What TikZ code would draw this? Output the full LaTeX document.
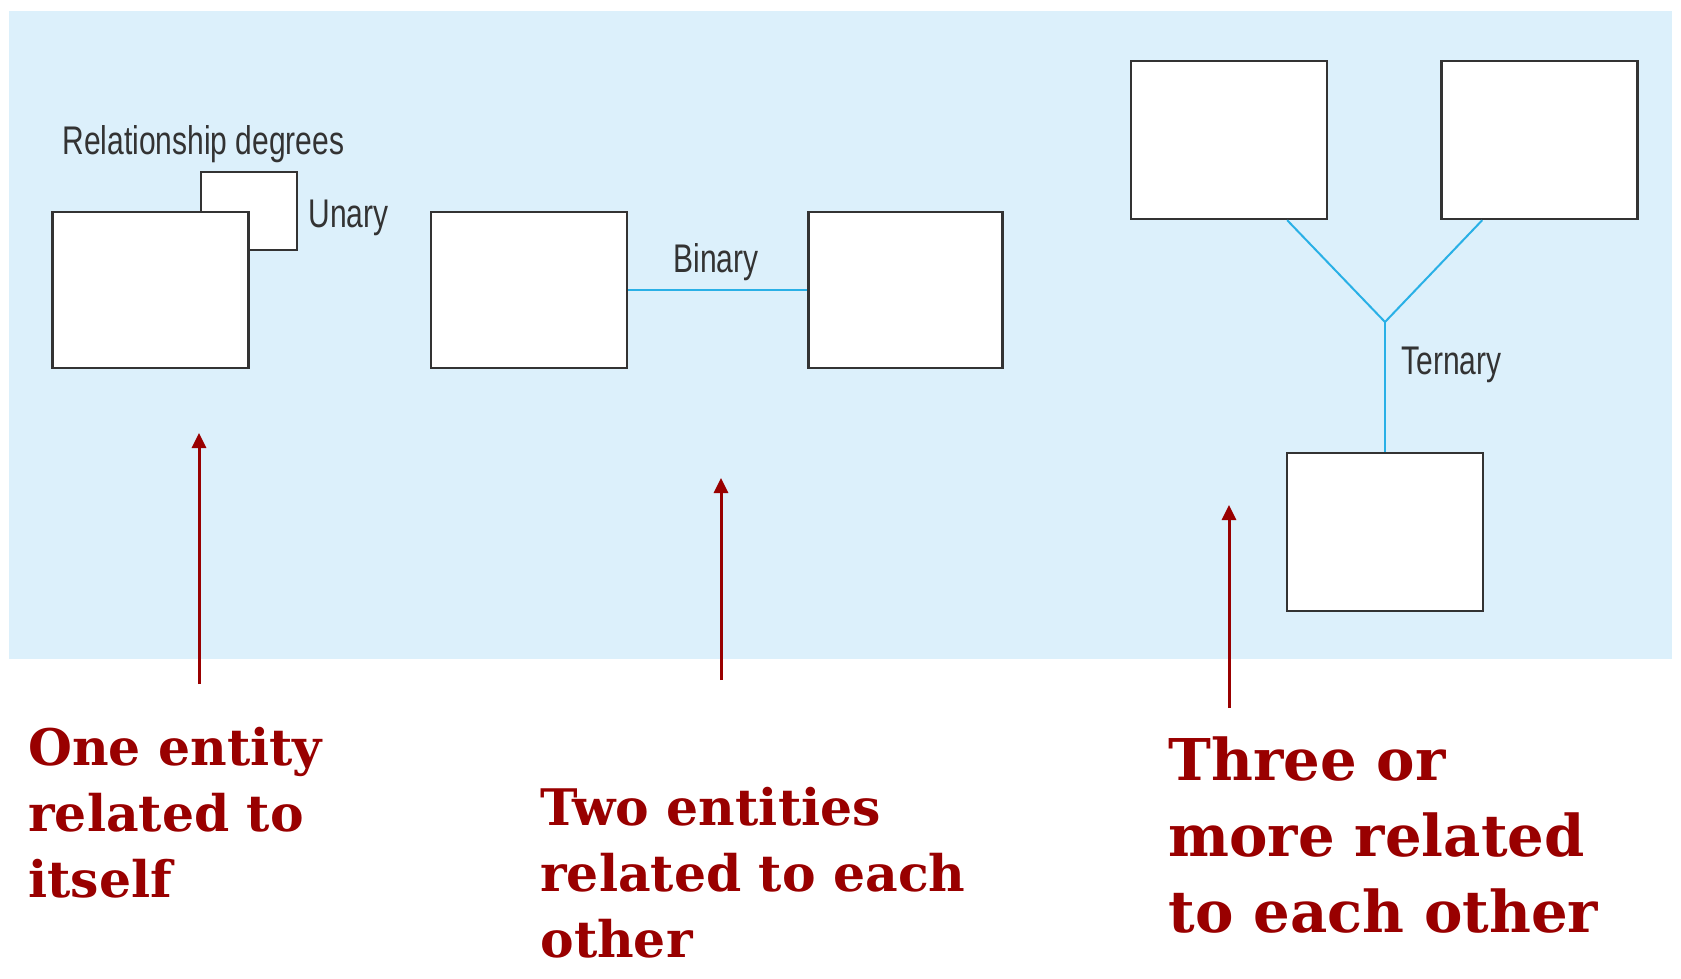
\documentclass[tikz,border=0pt]{standalone}
\usepackage{fontspec}
\setmainfont{DejaVu Serif}
\setsansfont{Liberation Sans}
\usetikzlibrary{positioning}
\usetikzlibrary{arrows.meta}

\definecolor{panelblue}{HTML}{DCF0FB}
\definecolor{linkblue}{HTML}{29B0E6}
\definecolor{notered}{HTML}{990000}
\definecolor{labelgray}{HTML}{333333}

\tikzset{
  entity/.style={draw=labelgray, fill=white, line width=1.2pt, minimum width=98pt, minimum height=78pt, inner sep=0pt},
  link/.style={draw=linkblue, line width=1pt},
  degree/.style={font=\sffamily\fontsize{20}{24}\selectfont, text=labelgray, anchor=base west, inner sep=0pt},
  pointer/.style={draw=notered, line width=1.5pt, -{Triangle[length=7.5pt,width=7pt]}},
  note/.style={font=\bfseries\fontsize{25.2}{33}\selectfont, text=notered, anchor=base west, align=left, inner sep=0pt},
}
\newcommand{\narrowtext}[1]{\scalebox{0.75}[1]{#1}}

\begin{document}
\begin{tikzpicture}[x=0.5pt, y=-0.5pt]
    \useasboundingbox (0,0) rectangle (1681,979);
    \fill[panelblue] (9,11) rectangle (1672,659);

    % unary
    \node[entity, minimum width=48pt, minimum height=39pt] (u2) at (249,211) {};
    \node[entity] (u1) at (150.5,290) {};
    \node[degree] (reltitle) at (62,155) {\narrowtext{Relationship degrees}};
    \node[degree] (unary) at (308,227) {\narrowtext{Unary}};

    % binary
    \node[entity] (b1) at (529,290) {};
    \node[entity, minimum width=97pt, right=89.5pt of b1] (b2) {};
    \draw[link] (b1) -- (b2);
    \node[degree] (binary) at (673,272) {\narrowtext{Binary}};

    % ternary
    \node[entity, minimum height=79pt] (t1) at (1229,140) {};
    \node[entity, minimum height=79pt, right=56pt of t1] (t2) {};
    \node[entity, minimum height=79pt] (t3) at (1385,532) {};
    \coordinate (tj) at (1385,322);
    \draw[link] ([xshift=-20.5pt]t1.south east) -- (tj) -- ([xshift=21pt]t2.south west);
    \draw[link] (tj) -- (t3.north);
    \node[degree] (ternary) at (1401,374) {\narrowtext{Ternary}};

    % pointers and notes
    \coordinate (p1) at (199,684);
    \coordinate (q1) at (199,433);
    \coordinate (p2) at (721,680);
    \coordinate (q2) at (721,478);
    \coordinate (p3) at (1229,708);
    \coordinate (q3) at (1229,505);
    \draw[pointer] (p1) -- (q1);
    \draw[pointer] (p2) -- (q2);
    \draw[pointer] (p3) -- (q3);

    \node[note] (one) at (28,897) {One entity\\related to\\itself};
    \node[note] (two) at (540,957) {Two entities\\related to each\\other};
    \node[note, font=\bfseries\fontsize{28.8}{38}\selectfont] (three) at (1168,932) {Three or\\more related\\to each other};
\end{tikzpicture}
\end{document}
